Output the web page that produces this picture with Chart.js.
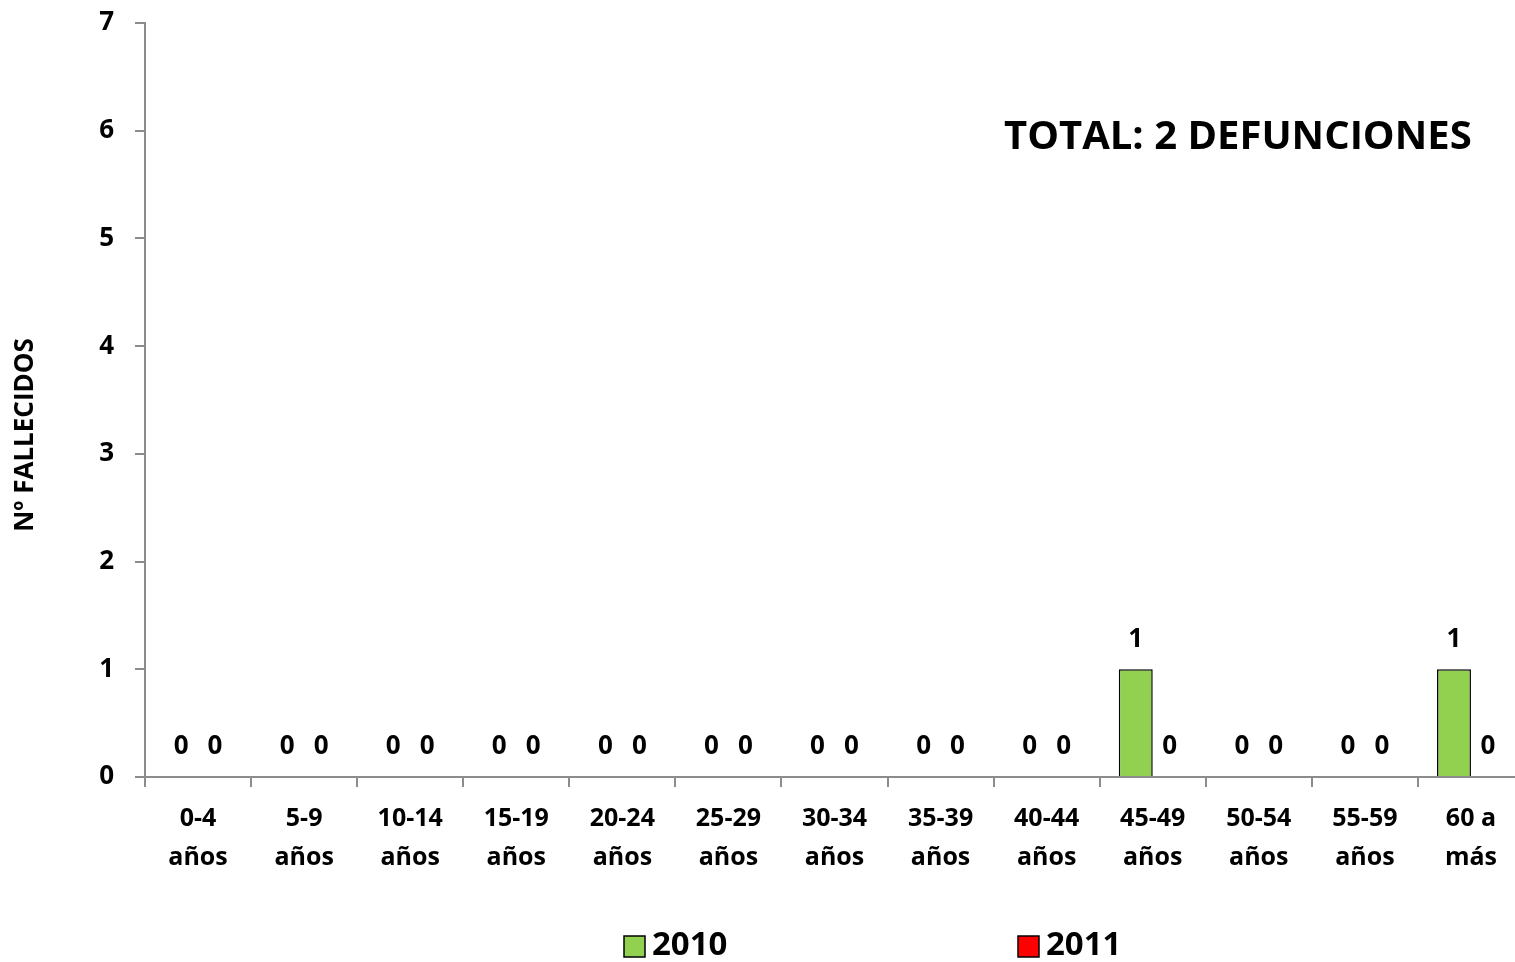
<!DOCTYPE html>
<html>
<head>
<meta charset="utf-8">
<script src="https://cdn.jsdelivr.net/npm/chart.js@4"></script>
<style>
  html, body { margin: 0; padding: 0; background: #fff; overflow: hidden; }
  #wrap { width: 1530px; height: 962px; }
</style>
</head>
<body>
<div id="wrap"><canvas id="chart"></canvas></div>
<script>
// Age groups and deaths per year
const ageGroups = [
  ['0-4', 'años'], ['5-9', 'años'], ['10-14', 'años'], ['15-19', 'años'],
  ['20-24', 'años'], ['25-29', 'años'], ['30-34', 'años'], ['35-39', 'años'],
  ['40-44', 'años'], ['45-49', 'años'], ['50-54', 'años'], ['55-59', 'años'],
  ['60 a', 'más']
];
const deaths2010 = [0, 0, 0, 0, 0, 0, 0, 0, 0, 1, 0, 0, 1];
const deaths2011 = [0, 0, 0, 0, 0, 0, 0, 0, 0, 0, 0, 0, 0];
const yTicks = [0, 1, 2, 3, 4, 5, 6, 7];

const FONT = '"Open Sans", "Liberation Sans", sans-serif';
const AXIS_GREY = '#8c8c8c';

// value labels above each bar
const valueLabels = {
  id: 'valueLabels',
  afterDatasetsDraw(chart) {
    const ctx = chart.ctx;
    ctx.save();
    ctx.font = 'bold 26px ' + FONT;
    ctx.fillStyle = '#000';
    ctx.textAlign = 'center';
    ctx.textBaseline = 'middle';
    chart.data.datasets.forEach((ds, i) => {
      chart.getDatasetMeta(i).data.forEach((bar, j) => {
        ctx.fillText(String(ds.data[j]), bar.x, bar.y - 30);
      });
    });
    ctx.restore();
  }
};

// total note, y title and bottom legend
const extras = {
  id: 'extras',
  afterDraw(chart) {
    const ctx = chart.ctx;
    ctx.save();
    ctx.fillStyle = '#000';

    ctx.font = 'bold 40px ' + FONT;
    ctx.textAlign = 'left';
    ctx.textBaseline = 'middle';
    ctx.fillText('TOTAL: 2 DEFUNCIONES', 1004, 138);

    ctx.save();
    ctx.translate(26, 435);
    ctx.rotate(-Math.PI / 2);
    ctx.font = 'bold 26px ' + FONT;
    ctx.textAlign = 'center';
    ctx.fillText('Nº FALLECIDOS', 0, 0);
    ctx.restore();

    const legendX = [624, 1018];
    ctx.font = 'bold 33px ' + FONT;
    chart.data.datasets.forEach((ds, i) => {
      const x = legendX[i];
      ctx.fillStyle = ds.backgroundColor;
      ctx.fillRect(x, 936, 21, 21);
      ctx.strokeStyle = '#000';
      ctx.lineWidth = 1.5;
      ctx.strokeRect(x, 936, 21, 21);
      ctx.fillStyle = '#000';
      ctx.textAlign = 'left';
      ctx.fillText(ds.label, x + 28, 946);
    });
    ctx.restore();
  }
};

new Chart(document.getElementById('chart'), {
  type: 'bar',
  data: {
    labels: ageGroups,
    datasets: [
      {
        label: '2010',
        data: deaths2010,
        backgroundColor: '#92D050',
        borderColor: '#000',
        borderWidth: 1.5,
        barPercentage: 1,
        categoryPercentage: 0.64
      },
      {
        label: '2011',
        data: deaths2011,
        backgroundColor: '#FF0000',
        borderColor: '#000',
        borderWidth: 1.5,
        barPercentage: 1,
        categoryPercentage: 0.64
      }
    ]
  },
  plugins: [valueLabels, extras],
  options: {
    responsive: true,
    maintainAspectRatio: false,
    animation: false,
    layout: { padding: { top: 23, right: 6, left: 0, bottom: 0 } },
    plugins: {
      legend: { display: false },
      tooltip: { enabled: false }
    },
    scales: {
      x: {
        grid: {
          offset: true,
          drawOnChartArea: false,
          drawTicks: true,
          tickLength: 10,
          color: AXIS_GREY,
          lineWidth: 2
        },
        border: { color: AXIS_GREY, width: 2 },
        ticks: {
          color: '#000',
          font: { family: FONT, size: 25, weight: 'bold', lineHeight: 1.56 },
          padding: 12,
          maxRotation: 0,
          autoSkip: false
        },
        afterFit(scale) {
          scale.height = 185;
          scale.paddingLeft = 0;
          scale.paddingRight = 0;
        }
      },
      y: {
        min: 0,
        max: 7,
        afterBuildTicks(scale) { scale.ticks = yTicks.map(v => ({ value: v })); },
        grid: {
          drawOnChartArea: false,
          drawTicks: true,
          tickLength: 10,
          color: AXIS_GREY,
          lineWidth: 2
        },
        border: { color: AXIS_GREY, width: 2 },
        ticks: {
          color: '#000',
          font: { family: FONT, size: 26, weight: 'bold' },
          padding: 21
        },
        afterFit(scale) {
          scale.width = 145;
          scale.paddingTop = 0;
          scale.paddingBottom = 0;
        }
      }
    }
  }
});
</script>
</body>
</html>
